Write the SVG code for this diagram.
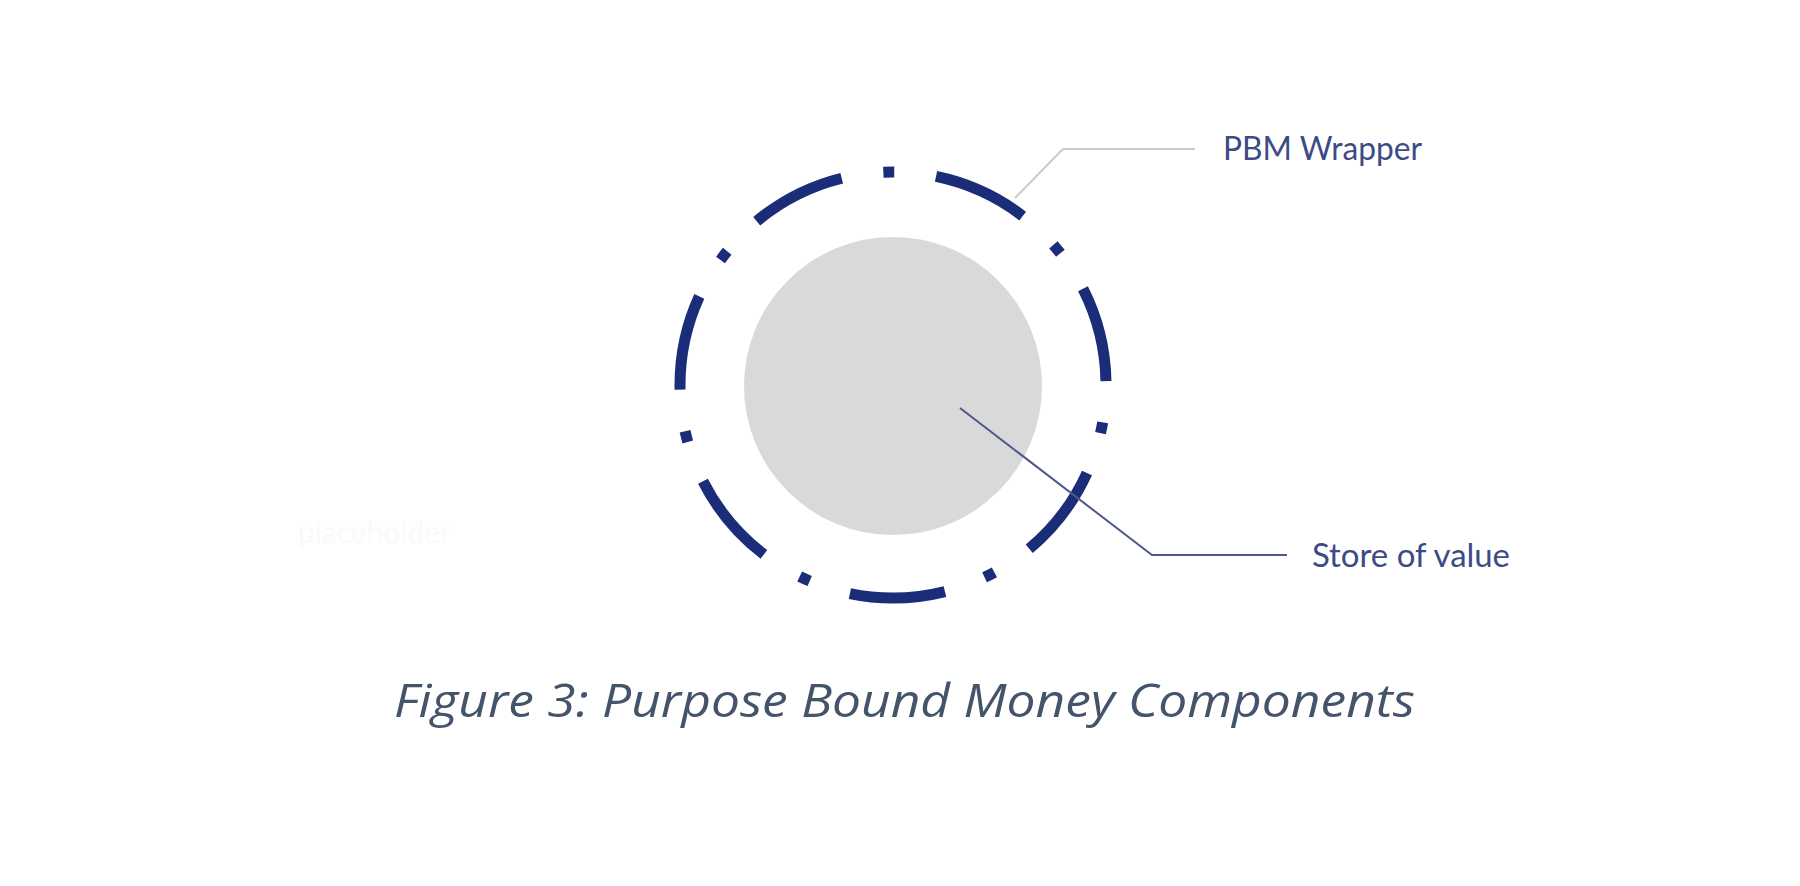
<svg xmlns="http://www.w3.org/2000/svg" width="1800" height="886" viewBox="0 0 1800 886">
  <style>
    .label { font-family: "Lato", "Open Sans", "Liberation Sans", sans-serif; font-size: 32px; fill: #3d4b84; }
    .caption { font-family: "Open Sans", "Liberation Sans", sans-serif; font-style: italic; font-size: 46px; fill: #44546a; }
    .ghost { font-family: "Lato", "Liberation Sans", sans-serif; font-size: 30px; fill: #fafafa; }
    .ring { fill: none; stroke: #1b2d78; stroke-width: 11; stroke-linecap: butt; stroke-dasharray: 96 42.1 11 42.1; stroke-dashoffset: 100.5; }
  </style>
  <rect x="0" y="0" width="1800" height="886" fill="#ffffff"/>
  <text class="ghost" x="298" y="543">placeholder</text>
  <g id="store-of-value">
    <circle cx="893" cy="386" r="149" fill="#d9d9d9"/>
  </g>
  <g id="pbm-wrapper">
    <path class="ring" d="M 1106 385 A 213 213 0 1 1 680 385 A 213 213 0 1 1 1106 385 Z"/>
  </g>
  <g id="connectors">
    <polyline points="1015,198 1063,149 1195,149" fill="none" stroke="#cbcbcb" stroke-width="2"/>
    <polyline points="960,408 1152,555 1287,555" fill="none" stroke="#4d5a8a" stroke-width="2"/>
  </g>
  <g id="labels">
    <text class="label" x="1223" y="160" textLength="199" lengthAdjust="spacingAndGlyphs">PBM Wrapper</text>
    <text class="label" x="1312" y="567" textLength="198" lengthAdjust="spacingAndGlyphs">Store of value</text>
  </g>
  <text class="caption" x="394" y="717" textLength="1021" lengthAdjust="spacingAndGlyphs">Figure 3: Purpose Bound Money Components</text>
</svg>
